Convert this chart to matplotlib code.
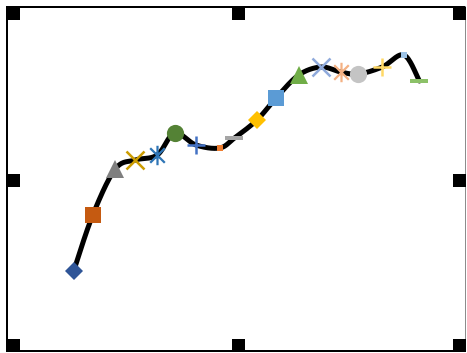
import matplotlib
matplotlib.use("Agg")
import matplotlib.pyplot as plt
import numpy as np
from matplotlib.path import Path
from matplotlib.patches import Rectangle

# series values
x_vals = [1.00, 1.94, 3.05, 4.04, 5.12, 5.98, 7.03, 8.20, 8.93,
          10.04, 10.98, 12.10, 13.20, 14.17, 15.04, 16.22, 17.29, 18.05]
y_vals = [2.9, 8.5, 13.1, 14.0, 14.5, 16.7, 15.5, 15.2, 16.2,
          18.0, 20.2, 22.5, 23.3, 22.8, 22.6, 23.3, 24.5, 21.9]

marker_colors = ["#2F5597", "#C55A11", "#7F7F7F", "#CC9C00", "#2E75B6", "#548235",
                 "#4472C4", "#ED7D31", "#A5A5A5", "#FFC000", "#5B9BD5", "#70AD47",
                 "#8FAADC", "#F4B183", "#C4C4C4", "#FFD966", "#9DC3E6", "#8CC168"]

asterisk = Path([(0, -1), (0, 1), (-0.75, -0.75), (0.75, 0.75), (-0.75, 0.75), (0.75, -0.75)],
                [Path.MOVETO, Path.LINETO, Path.MOVETO, Path.LINETO, Path.MOVETO, Path.LINETO])
dash = Path([(-1, -0.22), (1, -0.22), (1, 0.22), (-1, 0.22), (-1, -0.22)],
            [Path.MOVETO, Path.LINETO, Path.LINETO, Path.LINETO, Path.CLOSEPOLY])

# (marker, size in pt, filled, edge width)
shapes = [("D", 8.9, True, 0), ("s", 12.2, True, 0), ("^", 13.0, True, 0),
          ("x", 13.2, False, 1.8), (asterisk, 14.0, False, 1.6), ("o", 12.4, True, 0),
          ("+", 12.8, False, 1.8), ("s", 5.0, True, 0), (dash, 12.8, True, 0)]
shapes = shapes + shapes


def smooth(xs, ys, steps=30):
    # bezier segments with control points from neighbouring points
    p = np.column_stack([xs, ys])
    p = np.vstack([p[0], p, p[-1]])
    out = []
    for i in range(1, len(p) - 2):
        p0, p1, p2, p3 = p[i - 1], p[i], p[i + 1], p[i + 2]
        c1 = p1 + (p2 - p0) / 6
        c2 = p2 - (p3 - p1) / 6
        t = np.linspace(0, 1, steps)[:, None]
        seg = ((1 - t) ** 3 * p1 + 3 * (1 - t) ** 2 * t * c1
               + 3 * (1 - t) * t ** 2 * c2 + t ** 3 * p2)
        out.append(seg)
    out = np.vstack(out)
    return out[:, 0], out[:, 1]


fig = plt.figure(figsize=(4.67, 3.53), dpi=100)
ax = fig.add_axes([0, 0, 1, 1])
ax.set_xlim(-2.636, 20.40)
ax.set_ylim(-5.3, 30)
ax.axis("off")

sx, sy = smooth(x_vals, y_vals)
ax.plot(sx, sy, color="black", lw=3.6, solid_capstyle="round", zorder=2)

for xv, yv, col, (mk, ms, filled, mew) in zip(x_vals, y_vals, marker_colors, shapes):
    if filled:
        ax.plot(xv, yv, marker=mk, markersize=ms, color=col, markeredgewidth=0,
                linestyle="none", zorder=3)
    else:
        ax.plot(xv, yv, marker=mk, markersize=ms, color=col, markeredgewidth=mew,
                markerfacecolor="none", linestyle="none", zorder=3)

# frame and selection handles, in pixel coordinates
ov = fig.add_axes([0, 0, 1, 1])
ov.set_xlim(0, 467)
ov.set_ylim(353, 0)
ov.axis("off")
ov.patch.set_alpha(0)
ov.add_patch(Rectangle((6, 6), 460, 2, color="black", lw=0))
ov.add_patch(Rectangle((6, 6), 2, 346, color="black", lw=0))
ov.add_patch(Rectangle((6, 350), 460, 2, color="black", lw=0))
ov.add_patch(Rectangle((465, 6), 1, 346, color="#8C8C8C", lw=0))
for hx in [7, 232, 453]:
    for hy in [7, 174, 339]:
        if hx == 232 and hy == 174:
            continue
        ov.add_patch(Rectangle((hx, hy), 13, 13, color="black", lw=0))

fig.savefig("out.png", dpi=100)
